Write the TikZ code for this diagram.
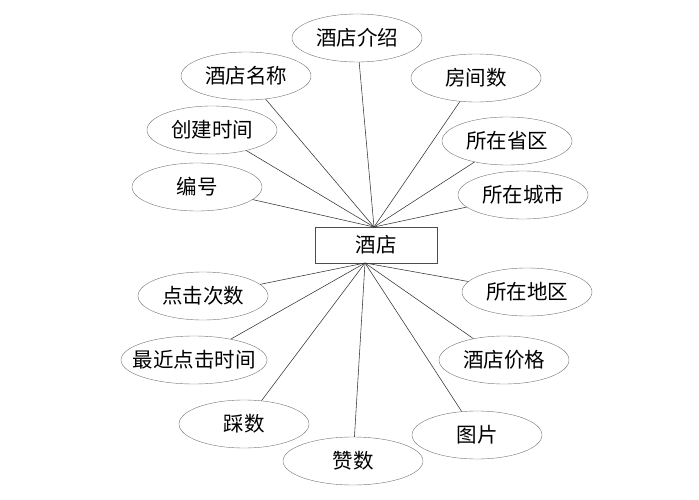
\documentclass[tikz,border=0pt]{standalone}
\usepackage{fontspec}
\setmainfont{Noto Sans CJK SC}
\tikzset{
  attr/.style={draw=black!55, ellipse, minimum width=130pt, minimum height=48pt, inner sep=0pt, font=\fontsize{20.5}{24}\selectfont},
  entity/.style={draw=black!70, rectangle, minimum width=122pt, minimum height=36pt, inner sep=0pt, font=\fontsize{20.5}{24}\selectfont},
  link/.style={draw=black!80, line width=0.55pt}
}
\usetikzlibrary{shapes.geometric}
\begin{document}
\begin{tikzpicture}[x=1pt, y=-1pt]
    \useasboundingbox (0,0) rectangle (699,500);

    % Thực thể
    \node[entity] (hotel) at (376,245) {酒店};
    \coordinate (tophub) at (374,227);
    \coordinate (bothub) at (365,263);

    % Thuộc tính phía trên
    \node[attr] (intro) at (357,38) {酒店介绍};
    \node[attr] (name) at (246,76) {酒店名称};
    \node[attr] (rooms) at (476,78) {房间数};
    \node[attr] (created) at (212,130) {创建时间};
    \node[attr] (province) at (507,141) {所在省区};
    \node[attr] (id) at (197,187) {编号};
    \node[attr] (city) at (523,195) {所在城市};

    % Thuộc tính phía dưới
    \node[attr] (clicks) at (203,296) {点击次数};
    \node[attr] (district) at (527,292) {所在地区};
    \node[attr, minimum width=146pt] (lastclick) at (194,360) {\makebox[90pt]{最近点击时间}};
    \node[attr] (price) at (504,360) {酒店价格};
    \node[attr] (dislikes) at (244,424) {踩数};
    \node[attr] (photo) at (477,435) {图片};
    \node[attr, minimum width=140pt] (likes) at (353,461) {赞数};

    % Đường nối
    \draw[link] (intro) -- (tophub);
    \draw[link] (name) -- (tophub);
    \draw[link] (rooms) -- (tophub);
    \draw[link] (created) -- (tophub);
    \draw[link] (province) -- (tophub);
    \draw[link] (id) -- (tophub);
    \draw[link] (city) -- (tophub);

    \draw[link] (clicks) -- (bothub);
    \draw[link] (district) -- (bothub);
    \draw[link] (lastclick) -- (bothub);
    \draw[link] (price) -- (bothub);
    \draw[link] (dislikes) -- (bothub);
    \draw[link] (photo) -- (bothub);
    \draw[link] (likes) -- (bothub);
\end{tikzpicture}
\end{document}
